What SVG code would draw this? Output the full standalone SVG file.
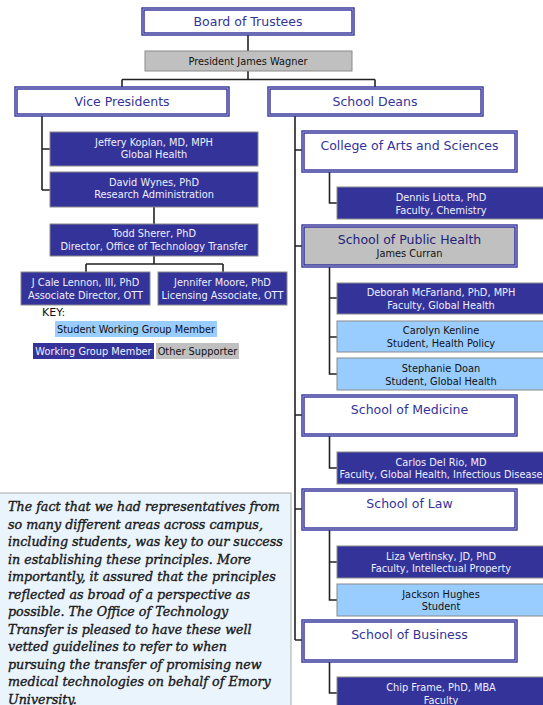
<svg xmlns="http://www.w3.org/2000/svg" width="543" height="705" viewBox="0 0 543 705">
<style>
.hdr{fill:#fff;stroke:#2e2e94;stroke-width:3.4}
.hdr2{fill:none;stroke:#b4b4e4;stroke-width:0.9}
.ht{font-family:"DejaVu Sans",sans-serif;font-size:12.5px;fill:#333399;text-anchor:middle}
.dk{fill:#333399;stroke:#8a8a8a;stroke-width:1}
.lb{fill:#99ccff;stroke:#8a8a8a;stroke-width:1}
.gr{fill:#c0c0c0;stroke:#8a8a8a;stroke-width:1}
.t{font-family:"DejaVu Sans",sans-serif;font-size:9.8px;text-anchor:middle}
.tw{fill:#f0f0ff}
.tb{fill:#111}
.ln{fill:none;stroke:#222;stroke-width:1.6}
.q{font-family:"DejaVu Serif",serif;font-size:12.7px;font-style:italic;fill:#1a1a1a;stroke:#1a1a1a;stroke-width:0.4}
</style>
<rect width="543" height="705" fill="#fff"/>
<g id="connectors" class="ln">
<path d="M248 34V51M248 71V79.5M122 79.5H375M122 79.5V88M375 79.5V88"/>
<path d="M42 115V190M42 149H50M42 190H50M154 207V224M154 256V264M86 264H223M86 264V272M223 264V272"/>
<path d="M295 115V640M295 150H303M295 246H303M295 415H303M295 509H303M295 640H303"/>
<path d="M329.5 171V203H337M329.5 266V374H337M329.5 298H337M329.5 337H337M329.5 435V468H337M329.5 529V600H337M329.5 562H337M329.5 661V693H337"/>
</g>
<g id="board"><rect class="hdr" x="143" y="9" width="210" height="25"/><rect class="hdr2" x="143" y="9" width="210" height="25"/><text class="ht" x="248" y="26">Board of Trustees</text></g>
<g id="president"><rect class="gr" x="145" y="51" width="207" height="20"/><text class="t tb" x="248" y="65">President James Wagner</text></g>
<g id="vp"><rect class="hdr" x="16" y="88" width="212" height="27"/><rect class="hdr2" x="16" y="88" width="212" height="27"/><text class="ht" x="122" y="106">Vice Presidents</text></g>
<g id="deans"><rect class="hdr" x="269" y="88" width="213" height="27"/><rect class="hdr2" x="269" y="88" width="213" height="27"/><text class="ht" x="375" y="106">School Deans</text></g>
<g id="koplan"><rect class="dk" x="50" y="132" width="208" height="34"/><text class="t tw" x="154" y="146">Jeffery Koplan, MD, MPH</text><text class="t tw" x="154" y="158">Global Health</text></g>
<g id="wynes"><rect class="dk" x="50" y="172" width="208" height="35"/><text class="t tw" x="154" y="186">David Wynes, PhD</text><text class="t tw" x="154" y="198">Research Administration</text></g>
<g id="sherer"><rect class="dk" x="50" y="224" width="208" height="32"/><text class="t tw" x="154" y="237">Todd Sherer, PhD</text><text class="t tw" x="154" y="250">Director, Office of Technology Transfer</text></g>
<g id="lennon"><rect class="dk" x="21" y="272" width="129" height="33"/><text class="t tw" x="85.5" y="286">J Cale Lennon, III, PhD</text><text class="t tw" x="85.5" y="299">Associate Director, OTT</text></g>
<g id="moore"><rect class="dk" x="158" y="272" width="129" height="33"/><text class="t tw" x="222.5" y="286">Jennifer Moore, PhD</text><text class="t tw" x="222.5" y="299">Licensing Associate, OTT</text></g>
<g id="key">
<text x="42" y="316" style="font-family:'DejaVu Sans',sans-serif;font-size:11px;fill:#111">KEY:</text>
<rect x="55" y="321" width="162" height="16" fill="#99ccff"/><text class="t tb" x="136" y="333">Student Working Group Member</text>
<rect x="33" y="343" width="121" height="16" fill="#333399"/><text class="t tw" x="93.5" y="355">Working Group Member</text>
<rect x="156" y="343" width="83" height="16" fill="#c0c0c0"/><text class="t tb" x="197.5" y="355">Other Supporter</text>
</g>
<g id="college"><rect class="hdr" x="303" y="132" width="213" height="39"/><rect class="hdr2" x="303" y="132" width="213" height="39"/><text class="ht" x="409.5" y="150">College of Arts and Sciences</text></g>
<g id="liotta"><rect class="dk" x="337" y="187" width="208" height="32"/><text class="t tw" x="441" y="201">Dennis Liotta, PhD</text><text class="t tw" x="441" y="213.5">Faculty, Chemistry</text></g>
<g id="publichealth"><rect class="hdr" x="303" y="226" width="213" height="40" style="fill:#c0c0c0"/><rect class="hdr2" x="303" y="226" width="213" height="40"/><text class="ht" x="409.5" y="244" style="fill:#222277">School of Public Health</text><text class="t tb" x="409.5" y="257">James Curran</text></g>
<g id="mcfarland"><rect class="dk" x="337" y="283" width="208" height="31"/><text class="t tw" x="441" y="296">Deborah McFarland, PhD, MPH</text><text class="t tw" x="441" y="308.5">Faculty, Global Health</text></g>
<g id="kenline"><rect class="lb" x="337" y="321" width="208" height="31"/><text class="t tb" x="441" y="334">Carolyn Kenline</text><text class="t tb" x="441" y="346.5">Student, Health Policy</text></g>
<g id="doan"><rect class="lb" x="337" y="358" width="208" height="32"/><text class="t tb" x="441" y="372">Stephanie Doan</text><text class="t tb" x="441" y="384.5">Student, Global Health</text></g>
<g id="medicine"><rect class="hdr" x="303" y="396" width="213" height="39"/><rect class="hdr2" x="303" y="396" width="213" height="39"/><text class="ht" x="409.5" y="414">School of Medicine</text></g>
<g id="delrio"><rect class="dk" x="337" y="452" width="208" height="32"/><text class="t tw" x="441" y="465.5">Carlos Del Rio, MD</text><text class="t tw" x="441" y="478">Faculty, Global Health, Infectious Disease</text></g>
<g id="law"><rect class="hdr" x="303" y="490" width="213" height="39"/><rect class="hdr2" x="303" y="490" width="213" height="39"/><text class="ht" x="409.5" y="508">School of Law</text></g>
<g id="vertinsky"><rect class="dk" x="337" y="546" width="208" height="32"/><text class="t tw" x="441" y="559.5">Liza Vertinsky, JD, PhD</text><text class="t tw" x="441" y="572">Faculty, Intellectual Property</text></g>
<g id="hughes"><rect class="lb" x="337" y="584" width="208" height="32"/><text class="t tb" x="441" y="597.5">Jackson Hughes</text><text class="t tb" x="441" y="610">Student</text></g>
<g id="business"><rect class="hdr" x="303" y="621" width="213" height="40"/><rect class="hdr2" x="303" y="621" width="213" height="40"/><text class="ht" x="409.5" y="639">School of Business</text></g>
<g id="frame"><rect class="dk" x="337" y="677" width="208" height="34"/><text class="t tw" x="441" y="691">Chip Frame, PhD, MBA</text><text class="t tw" x="441" y="703.5">Faculty</text></g>
<g id="quote">
<rect x="-1" y="493" width="292" height="220" fill="#eaf4fd" stroke="#aaaaaa" stroke-width="1"/>
<text class="q" x="8" y="511">The fact that we had representatives from</text>
<text class="q" x="8" y="528.5">so many different areas across campus,</text>
<text class="q" x="8" y="546">including students, was key to our success</text>
<text class="q" x="8" y="563.5">in establishing these principles. More</text>
<text class="q" x="8" y="581">importantly, it assured that the principles</text>
<text class="q" x="8" y="598.5">reflected as broad of a perspective as</text>
<text class="q" x="8" y="616">possible. The Office of Technology</text>
<text class="q" x="8" y="633.5">Transfer is pleased to have these well</text>
<text class="q" x="8" y="651">vetted guidelines to refer to when</text>
<text class="q" x="8" y="668.5">pursuing the transfer of promising new</text>
<text class="q" x="8" y="686">medical technologies on behalf of Emory</text>
<text class="q" x="8" y="703.5">University.</text>
</g>
</svg>
